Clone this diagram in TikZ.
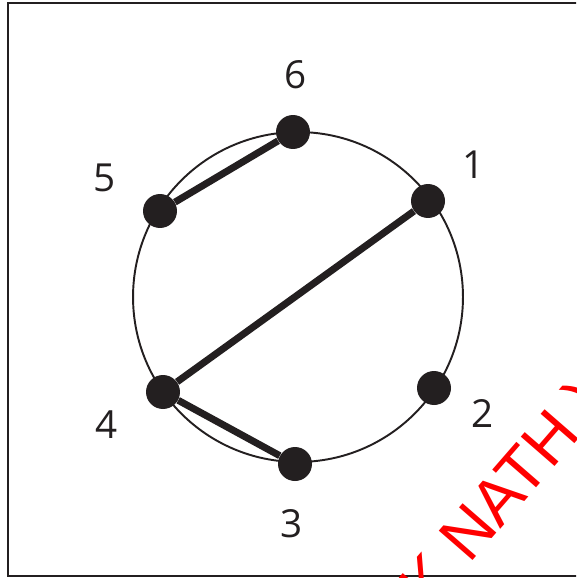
\documentclass[tikz,border=0pt]{standalone}
\usepackage{fontspec}
\setmainfont{Open Sans}
\newfontfamily\stampfont{Liberation Sans}
\usepackage{xcolor}
\usepackage{tikz}
\usetikzlibrary{positioning}
\definecolor{ink}{HTML}{231F20}
\definecolor{stamp}{HTML}{FF0000}
\tikzset{
  dotnode/.style={circle,fill=ink,inner sep=0pt,minimum size=0.68cm},
  numlabel/.style={text=ink,inner sep=0pt,font=\fontsize{22}{22}\selectfont},
  ringline/.style={draw=ink,line width=1.1pt},
  chordline/.style={draw=ink,line width=4pt},
  frameline/.style={draw=ink,line width=1.4pt}
}

\begin{document}
\begin{tikzpicture}[x=0.02cm,y=-0.02cm]
\useasboundingbox (0,0) rectangle (576,578);
\clip (0,0) rectangle (576,578);
\draw[frameline] (8,3) rectangle (620,576);
\coordinate (ctr) at (298,297);
\draw[ringline] (ctr) circle[radius=3.3cm];
% points on the ring
\node[dotnode] (d1) at (428,201) {};
\node[dotnode] (d2) at (434,388) {};
\node[dotnode] (d3) at (295,464) {};
\node[dotnode] (d4) at (163,392) {};
\node[dotnode] (d5) at (160,211) {};
\node[dotnode] (d6) at (293,132) {};
% numbers
\node[numlabel] (l1) at (474,165) {1};
\node[numlabel] (l2) at (483,413) {2};
\node[numlabel] (l3) at (292,524) {3};
\node[numlabel] (l4) at (107,425) {4};
\node[numlabel] (l5) at (105,178) {5};
\node[numlabel] (l6) at (296,75) {6};
% chords
\draw[chordline] (d6) -- (d5);
\draw[chordline] (d1) -- (d4);
\draw[chordline] (d4) -- (d3);
% stamp
\node[text=stamp,inner sep=0pt,rotate=49,font=\stampfont\fontsize{37}{37}\selectfont] (stampnote) at (506,497) {K NATH )};
\end{tikzpicture}
\end{document}
